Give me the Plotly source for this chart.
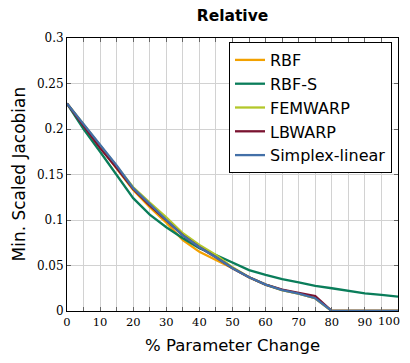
import plotly.graph_objects as go

x = [0, 5, 10, 15, 20, 25, 30, 35, 40, 45, 50, 55, 60, 65, 70, 75, 80, 85, 90, 95, 100]

rbf = [0.228, 0.204, 0.180, 0.157, 0.133, 0.114, 0.097, 0.078, 0.065, 0.056, 0.047,
       0.037, 0.029, 0.023, 0.019, 0.014, 0.0, 0.0, 0.0, 0.0, 0.0]
rbf_s = [0.228, 0.200, 0.175, 0.149, 0.124, 0.106, 0.092, 0.080, 0.069, 0.0615, 0.053,
         0.045, 0.0396, 0.035, 0.0315, 0.0275, 0.025, 0.0223, 0.0194, 0.0176, 0.0157]
femwarp = [0.228, 0.205, 0.181, 0.159, 0.136, 0.119, 0.103, 0.0854, 0.0725, 0.0615, 0.048,
           0.037, 0.029, 0.023, 0.019, 0.014, 0.0, 0.0, 0.0, 0.0, 0.0]
lbwarp = [0.228, 0.203, 0.179, 0.157, 0.134, 0.116, 0.100, 0.083, 0.070, 0.059, 0.047,
          0.037, 0.029, 0.0235, 0.020, 0.0165, 0.0, 0.0, 0.0, 0.0, 0.0]
simplex = [0.228, 0.205, 0.182, 0.160, 0.135, 0.117, 0.100, 0.083, 0.070, 0.059, 0.047,
           0.037, 0.029, 0.023, 0.019, 0.014, 0.0, 0.0, 0.0, 0.0, 0.0]

x_ticks = [0, 10, 20, 30, 40, 50, 60, 70, 80, 90, 100]

series = [
    ("RBF", rbf, "#F2A100"),
    ("RBF-S", rbf_s, "#0A7D5A"),
    ("FEMWARP", femwarp, "#B3C72A"),
    ("LBWARP", lbwarp, "#7A1330"),
    ("Simplex-linear", simplex, "#4370A8"),
]

fig = go.Figure()
for name, vals, color in series:
    fig.add_trace(go.Scatter(x=x, y=vals, mode="lines", name=name,
                             line=dict(color=color, width=2.3)))

sans = "DejaVu Sans, sans-serif"
serif = "DejaVu Serif, serif"

# page offset (browser body margin)
O = 8
W, H = 410 - O, 363 - 2 * O
# target plot area in page pixels
PL, PR, PT, PB = 67, 398, 38, 311
L, R, T, B = PL - O, (W + O) - PR, PT - O, (H + O) - PB
pw, ph = W - L - R, H - T - B


def px_x(page_x):
    return (page_x - PL) / pw


def px_y(page_y):
    return (PB - page_y) / ph


# last tick label drawn as an annotation so it stays inside the visible page
last_tick = x_ticks[-1]
tick_labels = [str(v) if v != last_tick else "" for v in x_ticks]

fig.update_layout(
    width=W, height=H,
    margin=dict(l=L, r=R, t=T, b=B),
    paper_bgcolor="white", plot_bgcolor="white",
    title=dict(text="<b>Relative</b>", x=((PL + PR) / 2 - O) / W,
               xanchor="center", y=1 - (16 - O) / H, yanchor="middle",
               font=dict(family=sans, size=15.5, color="black")),
    legend=dict(x=px_x(392), xanchor="right", y=px_y(42), yanchor="top",
                bgcolor="white", bordercolor="black", borderwidth=1,
                font=dict(family=sans, size=16, color="black"),
                tracegroupgap=0),
    showlegend=True,
    annotations=[
        dict(text="% Parameter Change", xref="paper", yref="paper",
             x=0.5, y=px_y(345), xanchor="center", yanchor="middle",
             showarrow=False, font=dict(family=sans, size=16.5, color="black")),
        dict(text="Min. Scaled Jacobian", xref="paper", yref="paper",
             x=px_x(18), y=0.5, xanchor="center", yanchor="middle",
             textangle=-90, showarrow=False,
             font=dict(family=sans, size=17, color="black")),
        dict(text=str(last_tick), xref="x", yref="paper",
             x=last_tick, y=px_y(320.5), xanchor="right", yanchor="middle",
             xshift=4, showarrow=False,
             font=dict(family=serif, size=11.5, color="black")),
    ],
)

fig.update_xaxes(
    range=[0, 100], tickvals=x_ticks, ticktext=tick_labels, automargin=False,
    showgrid=True, gridcolor="#d2d2d2", gridwidth=1,
    minor=dict(dtick=5, showgrid=True, gridcolor="#d2d2d2", ticks="inside",
               ticklen=4, tickcolor="#666666"),
    ticks="inside", ticklen=4, tickcolor="#666666",
    showline=True, linecolor="black", linewidth=1, mirror="allticks",
    zeroline=False, ticklabeloverflow="allow",
    tickfont=dict(family=serif, size=11.5, color="black"),
)
fig.update_yaxes(
    range=[0, 0.3], dtick=0.05, tick0=0, automargin=False,
    showgrid=True, gridcolor="#d2d2d2", gridwidth=1,
    ticks="inside", ticklen=4, tickcolor="#666666",
    showline=True, linecolor="black", linewidth=1, mirror="allticks",
    zeroline=False, ticklabeloverflow="allow",
    tickfont=dict(family=serif, size=12, color="black"),
    tickformat="~g",
)

fig.write_html("out.html")
